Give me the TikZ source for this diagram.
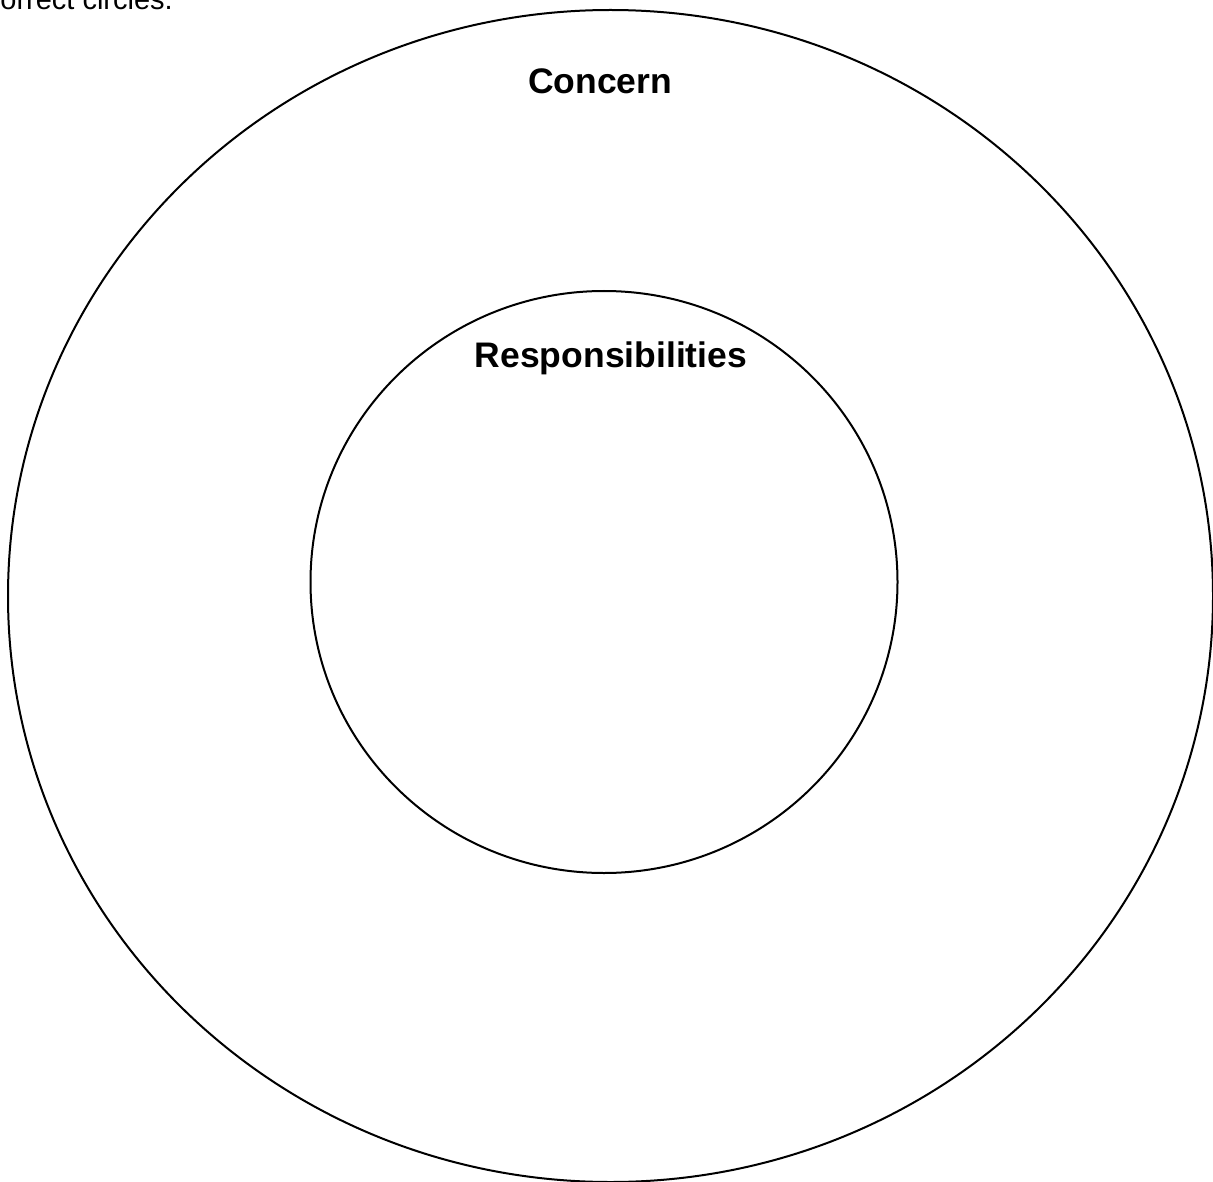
\documentclass[tikz,border=0pt]{standalone}
\usepackage{fontspec}
\setmainfont{Liberation Sans}
\usetikzlibrary{shapes.geometric}
\begin{document}
\begin{tikzpicture}[x=1pt,y=-1pt,
  ring/.style={draw=black,line width=2pt,ellipse,inner sep=0pt,outer sep=0pt},
  title/.style={font=\fontsize{35.5}{42}\selectfont\bfseries,inner sep=0pt,anchor=base},
  bodytext/.style={font=\fontsize{29}{34}\selectfont,inner sep=0pt,anchor=base east}]
\useasboundingbox (0,0) rectangle (1213,1182);
\clip (0,0) rectangle (1213,1182);
\fill[white] (0,0) rectangle (1213,1182);
\node[bodytext] (top) at (173,10) {correct circles.};
\node[ring,minimum width=1205pt,minimum height=1172pt] (outer) at (610.5,596) {};
\node[ring,minimum width=587pt,minimum height=582pt] (inner) at (604,582) {};
\node[title] (concern) at (600,94) {Concern};
\node[title] (resp) at (611,367) {Responsibilities};
\end{tikzpicture}
\end{document}
